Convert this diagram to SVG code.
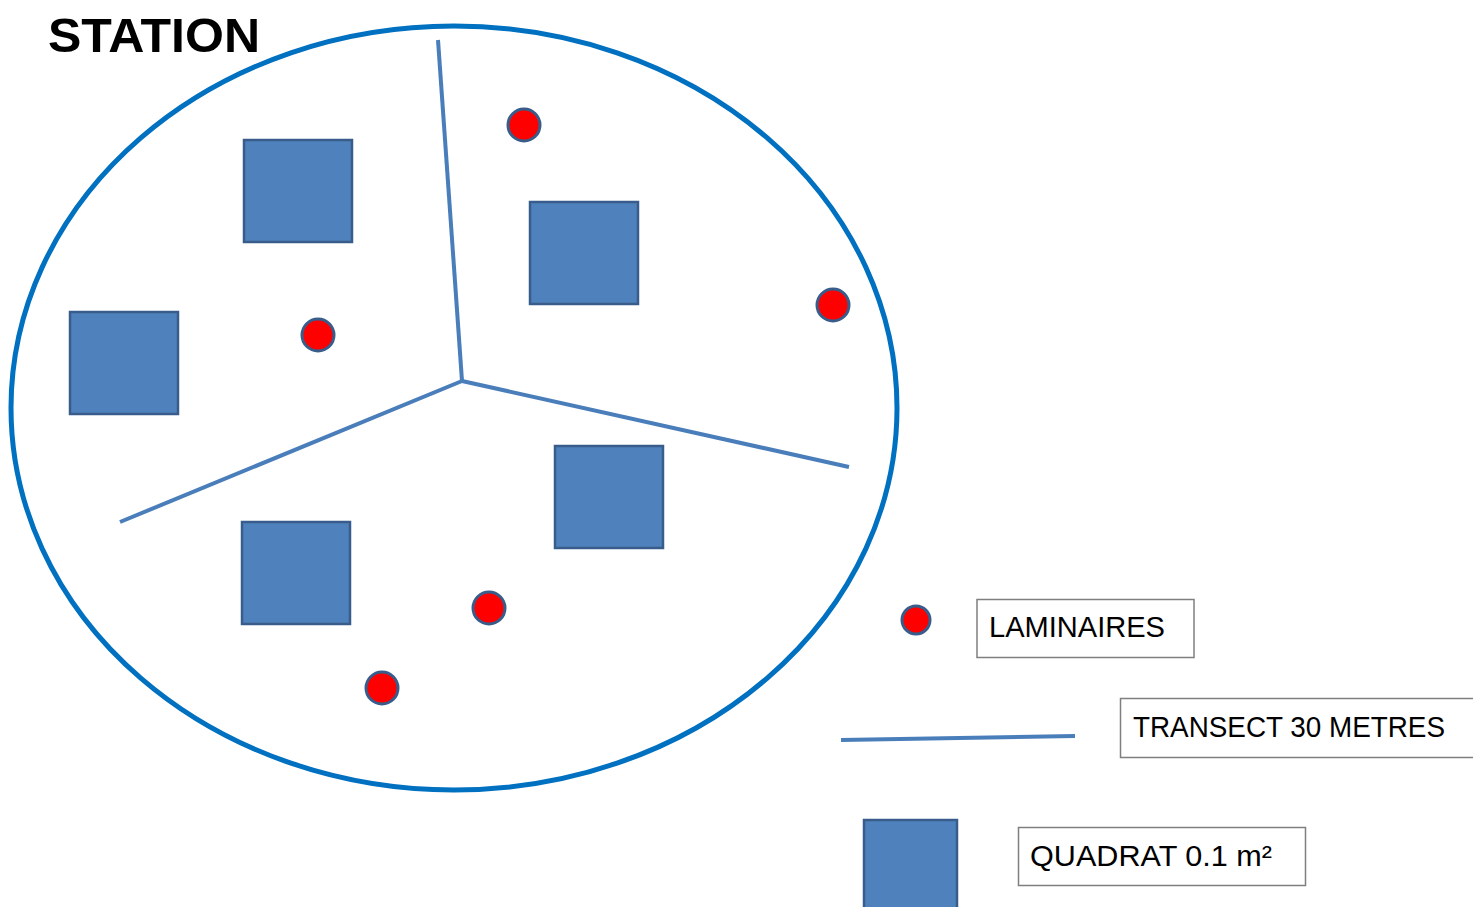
<svg xmlns="http://www.w3.org/2000/svg" width="1473" height="907" viewBox="0 0 1473 907">
<style>
.quad{fill:#4f81bd;stroke:#385d8a;stroke-width:2.5}
.dot{fill:#ff0000;stroke:#385d8a;stroke-width:3}
.tr{stroke:#4a7ebb;stroke-width:4;fill:none}
.box{fill:#fff;stroke:#7f7f7f;stroke-width:1.5}
.lbl{font-family:"Liberation Sans",Arial,sans-serif;font-size:29px;fill:#000}
</style>
<rect width="1473" height="907" fill="#fff"/>
<g id="title"><text x="48" y="52" font-family="Liberation Sans,Arial,sans-serif" font-weight="bold" font-size="48" textLength="212" lengthAdjust="spacingAndGlyphs">STATION</text></g>
<g id="station"><ellipse cx="454" cy="408" rx="443" ry="382" fill="none" stroke="#0070c0" stroke-width="5"/></g>
<g id="connectors">
<line class="tr" x1="462" y1="381" x2="438" y2="40"/>
<line class="tr" x1="462" y1="381" x2="849" y2="467"/>
<line class="tr" x1="462" y1="381" x2="120" y2="522"/>
</g>
<g id="quadrats">
<rect class="quad" x="244" y="140" width="108" height="102"/>
<rect class="quad" x="530" y="202" width="108" height="102"/>
<rect class="quad" x="70" y="312" width="108" height="102"/>
<rect class="quad" x="555" y="446" width="108" height="102"/>
<rect class="quad" x="242" y="522" width="108" height="102"/>
</g>
<g id="laminaires">
<circle class="dot" cx="524" cy="125" r="16"/>
<circle class="dot" cx="833" cy="305" r="16"/>
<circle class="dot" cx="318" cy="335" r="16"/>
<circle class="dot" cx="489" cy="608" r="16"/>
<circle class="dot" cx="382" cy="688" r="16"/>
</g>
<g id="legend-laminaires">
<circle class="dot" cx="916" cy="620" r="14"/>
<rect class="box" x="977" y="599.5" width="217" height="58"/>
<text class="lbl" x="989" y="637" textLength="176" lengthAdjust="spacingAndGlyphs">LAMINAIRES</text>
</g>
<g id="legend-transect">
<line class="tr" x1="841" y1="740" x2="1075" y2="736"/>
<rect class="box" x="1120.5" y="698.5" width="360" height="59"/>
<text class="lbl" x="1133" y="737" textLength="312" lengthAdjust="spacingAndGlyphs">TRANSECT 30 METRES</text>
</g>
<g id="legend-quadrat">
<rect class="quad" x="864" y="820" width="93" height="95"/>
<rect class="box" x="1018.5" y="827.5" width="287" height="58"/>
<text class="lbl" x="1030" y="866" textLength="242" lengthAdjust="spacingAndGlyphs">QUADRAT 0.1 m²</text>
</g>
</svg>
